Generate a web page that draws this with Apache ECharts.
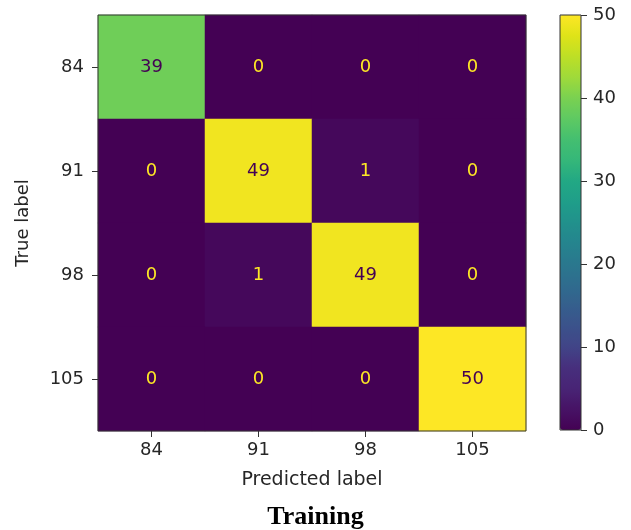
<!DOCTYPE html>
<html>
<head>
<meta charset="utf-8">
<script src="https://cdn.jsdelivr.net/npm/echarts@6/dist/echarts.min.js"></script>
<style>
  html, body { margin: 0; padding: 0; background: #fff; }
  #chart { width: 631px; height: 530px; }
</style>
</head>
<body>
<div id="chart"></div>
<script>
// confusion matrix, rows = true label, cols = predicted label
const labels = ['84', '91', '98', '105']
const matrix = [
  [39, 0, 0, 0],
  [0, 49, 1, 0],
  [0, 1, 49, 0],
  [0, 0, 0, 50],
]
const colorbarTicks = [0, 10, 20, 30, 40, 50]

// viridis
const viridis = [
  '#440154', '#471365', '#482475', '#472f7d', '#414487', '#3b528b',
  '#355f8d', '#2f6c8e', '#2a788e', '#25848e', '#21918c', '#1f9e89',
  '#22a884', '#35b779', '#44bf70', '#5ec962', '#7ad151', '#9fda3a',
  '#bddf26', '#dfe318', '#fde725',
]
const vmin = colorbarTicks[0]
const vmax = colorbarTicks[colorbarTicks.length - 1]

const data = []
matrix.forEach((row, i) => {
  row.forEach((v, j) => {
    data.push({
      value: [j, i, v],
      label: { color: v < (vmin + vmax) / 2 ? viridis[viridis.length - 1] : viridis[0] },
    })
  })
})

const font = 'DejaVu Sans'
const txt = '#262626'

const chart = echarts.init(document.getElementById('chart'))
chart.setOption({
  animation: false,
  title: {
    text: 'Training',
    left: 'center',
    top: 504,
    padding: 0,
    textStyle: { fontFamily: 'Liberation Serif', fontWeight: 'bold', fontSize: 26, color: '#000' },
  },
  grid: [
    { left: 98, top: 15, width: 428, height: 416, show: true, borderColor: '#333', borderWidth: 1, z: 10 },
    { left: 560, top: 15, width: 21, height: 415, show: true, borderColor: '#333', borderWidth: 1, z: 10 },
  ],
  xAxis: [
    {
      gridIndex: 0,
      type: 'category',
      data: labels,
      name: 'Predicted label',
      nameLocation: 'middle',
      nameGap: 40,
      nameTextStyle: { fontFamily: font, fontSize: 19, color: txt },
      axisLine: { show: false },
      axisTick: { show: true, alignWithLabel: true, length: 6, lineStyle: { color: '#333' } },
      axisLabel: { fontFamily: font, fontSize: 18, color: txt, margin: 10 },
      splitLine: { show: false },
    },
    { gridIndex: 1, type: 'value', min: 0, max: 1, show: false },
  ],
  yAxis: [
    {
      gridIndex: 0,
      type: 'category',
      data: labels,
      inverse: true,
      name: 'True label',
      nameLocation: 'middle',
      nameGap: 66,
      nameTextStyle: { fontFamily: font, fontSize: 18, color: txt },
      axisLine: { show: false },
      axisTick: { show: true, alignWithLabel: true, length: 6, lineStyle: { color: '#333' } },
      axisLabel: { fontFamily: font, fontSize: 18, color: txt, margin: 14 },
      splitLine: { show: false },
    },
    {
      gridIndex: 1,
      type: 'value',
      position: 'right',
      min: vmin,
      max: vmax,
      interval: 10,
      z: 10,
      axisLine: { show: false, onZero: false },
      axisTick: { show: true, inside: false, length: 6, lineStyle: { color: '#333' } },
      axisLabel: { fontFamily: font, fontSize: 18, color: txt, margin: 12 },
      splitLine: { show: false },
    },
  ],
  visualMap: {
    type: 'continuous',
    min: vmin,
    max: vmax,
    seriesIndex: 0,
    calculable: false,
    orient: 'vertical',
    left: 560,
    top: 15,
    itemWidth: 21,
    itemHeight: 415,
    padding: 0,
    inRange: { color: viridis },
  },
  series: [
    {
      type: 'heatmap',
      xAxisIndex: 0,
      yAxisIndex: 0,
      data: data,
      label: {
        show: true,
        fontFamily: font,
        fontSize: 18,
        formatter: p => p.value[2],
      },
      itemStyle: { borderWidth: 0 },
      emphasis: { disabled: true },
    },
  ],
})
</script>
</body>
</html>
